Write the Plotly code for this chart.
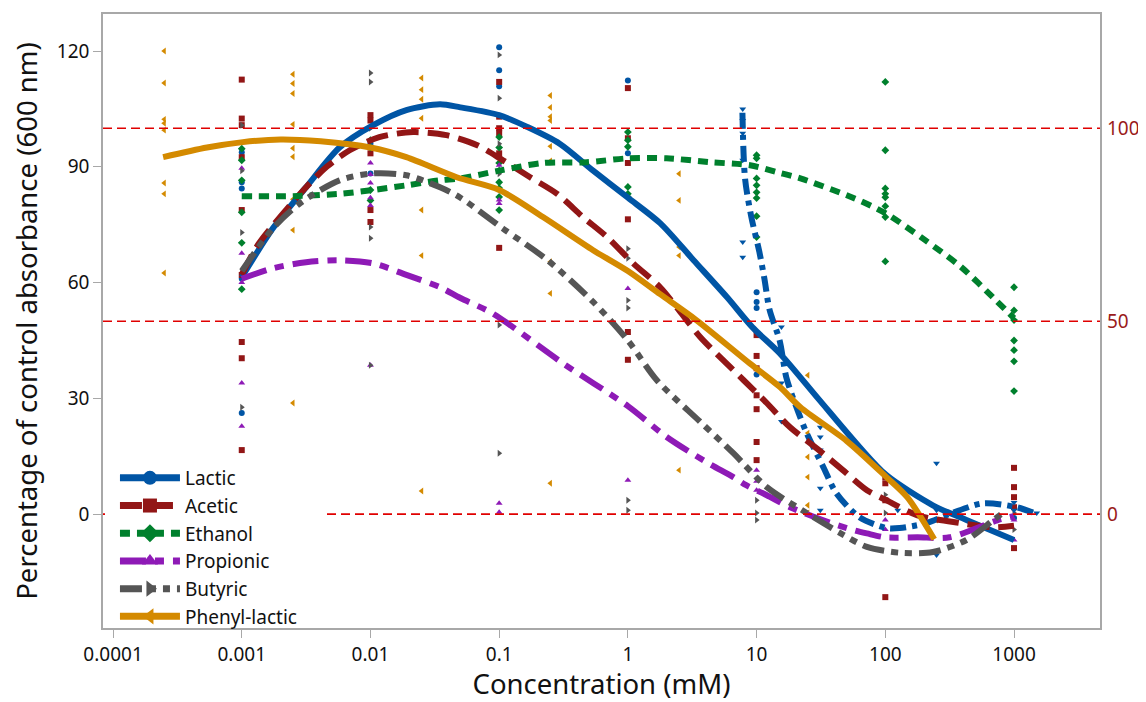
import plotly.graph_objects as go

# ---------------- data ----------------
series_names = ["Lactic", "Acetic", "Ethanol", "Propionic", "Butyric", "Phenyl-lactic"]
colors = ["#0055A5", "#921616", "#00802D", "#8E1AB6", "#555555", "#D48A00"]
symbols = ["circle", "square", "diamond", "triangle-up", "triangle-right", "triangle-left"]
dashes = ["solid", "22px,9px", "10px,7px", "26px,9px,9px,9px", "22px,7px,7px,7px,7px,7px", "solid"]

# fitted curves (concentration in mM, % of control)
lactic_cx = [0.001, 0.00174, 0.00316, 0.00575, 0.0105, 0.019, 0.0347, 0.05, 0.1, 0.166, 0.295, 0.537,
             1, 1.78, 3.24, 5.9, 9.3, 15.1, 30, 63, 102, 234, 427, 1000]
lactic_cy = [61.4, 74, 84.7, 95, 100.8, 104.7, 106.2, 105.4, 103.4, 100.3, 96, 89,
             82, 75.4, 65.8, 56.2, 48.4, 41.7, 30, 17.4, 10.1, 2.3, -1.5, -6.7]

acetic_cx = [0.001, 0.00135, 0.00316, 0.00457, 0.0069, 0.0117, 0.0214, 0.0389, 0.0676, 0.107, 0.174,
             0.282, 0.447, 0.69, 1.1, 1.78, 2.5, 3.63, 7.94, 12, 18.2, 29.5, 46.8, 72, 102, 178, 380, 692, 1000]
acetic_cy = [62, 70, 84.7, 90, 94.3, 97.7, 99, 98.2, 95.6, 91.7, 87.3,
             83, 77, 71.8, 65, 58.8, 52.8, 46, 34.7, 28.8, 22.5, 17, 11.4, 6.2, 3.6, -0.3, -2.3, -3.4, -3]

ethanol_cx = [0.001, 0.0025, 0.00575, 0.0105, 0.019, 0.0347, 0.05, 0.1, 0.219, 0.479, 1, 2.0, 4.37,
              8.9, 14.5, 21.9, 56, 100, 204, 389, 724, 1000]
ethanol_cy = [82.4, 82.4, 83, 84, 85.2, 86.5, 87, 89, 91, 91.2, 92.2, 92.2, 91.2,
              90.4, 88.6, 87, 82, 78, 71, 64, 55.4, 50.8]

propionic_cx = [0.001, 0.00174, 0.00316, 0.00575, 0.0105, 0.019, 0.0347, 0.05, 0.089, 0.316, 1, 2.0,
                4.07, 6.6, 8.3, 12, 18.2, 33, 56, 72, 100, 178, 316, 741, 1000]
propionic_cy = [61, 63.7, 65.3, 65.8, 65, 62, 58.8, 56, 52, 39, 28, 20,
                13.5, 9.6, 7.5, 4.9, 1.8, -1.6, -4.1, -5, -6, -6, -6, -1.6, -0.5]

butyric_cx = [0.001, 0.00174, 0.00282, 0.00575, 0.0105, 0.019, 0.0347, 0.05, 0.107, 0.234, 0.537, 1,
              1.68, 3.63, 6.6, 12, 24.5, 44.7, 72, 129, 234, 427, 692, 871]
butyric_cy = [63, 74, 80.5, 86.5, 88.3, 87.8, 84.7, 82, 74, 66, 55, 45,
              34.7, 24, 15.8, 7, 0.3, -4.9, -8.5, -10, -9.8, -6.7, -1.5, 1]

phenyl_cx = [0.000245, 0.000537, 0.00102, 0.002, 0.0041, 0.01, 0.019, 0.0468, 0.1, 0.219, 0.537, 1,
             1.78, 3.4, 8.9, 15.1, 21.9, 50, 102, 148, 240]
phenyl_cy = [92.5, 95, 96.4, 97.1, 96.6, 95, 92.5, 87.3, 84, 77, 68.4, 63,
             57, 50.3, 39, 33, 27.7, 19, 9.6, 4.4, -6.5]

# unlabelled blue series (inverted triangles)
extra_cx = [7.76, 8.13, 9.1, 10.5, 11.5, 12.6, 15.1, 17, 20.4, 24.5, 33, 41.7, 63, 102, 129, 209, 331,
            575, 1047, 1514]
extra_cy = [104, 87, 77, 68, 61, 53, 45, 35.5, 27.7, 21, 12.2, 5.4, -0.8, -3.6, -3.6, -2.3, 0.3,
            2.8, 1.8, 0]

# individual measurements: (concentration, values)
lactic_pts = [(0.001, [93.8, 86, 84.4, 61, 26.2]), (0.01, [96, 88.3]), (0.1, [121, 115, 110.9]),
              (1, [112.4, 93.5]), (10, [57.5, 55, 53.4, 36.2]), (1000, [-1])]
acetic_pts = [(0.001, [112.6, 102.5, 100.8, 92.5, 78.8, 62, 44.6, 40.4, 16.6]),
              (0.01, [103.4, 102, 93.5, 78.8, 75.7]),
              (0.1, [112, 103, 100, 98.7, 93.5, 69]),
              (1, [110.4, 97.4, 91, 76.4, 47.2, 40]),
              (10, [46.4, 41, 37.8, 30.8, 27.2, 18.7, 14]),
              (100, [9.6, 8, 3.6, -21.5]),
              (1000, [12, 7, 4.4, 1.8, -8.8])]
ethanol_pts = [(0.001, [94.7, 91.7, 86.5, 78.2, 70.3, 58.3]),
               (0.01, [96.9, 95, 84, 81.3]),
               (0.1, [97.7, 95, 91, 89, 86, 84.5, 82.2, 78.8]),
               (1, [99, 96.9, 95.2, 84.8, 83, 82.2]),
               (10, [93, 92.2, 87, 85.2, 83.4, 81.9, 77.2, 71.8]),
               (100, [112, 94.3, 84.4, 83, 82.1, 79.8, 77, 65.5]),
               (1000, [58.8, 52.8, 50.3, 45, 42.5, 39.6, 31.9])]
propionic_pts = [(0.001, [89.6, 67.6, 60, 34, 22.8]),
                 (0.01, [91, 88, 85.8, 82, 80, 38.6]),
                 (0.1, [90.4, 81.4, 80.5, 2.8, 0.5]),
                 (1, [58.5, 8.8]),
                 (10, [11.4, 8.5, 6.2]),
                 (100, [-1.5, -4]),
                 (1000, [-1.5, -6.7])]
butyric_pts = [(0.001, [100.8, 89, 73, 62.4, 27.7]),
               (0.01, [114.3, 112, 100, 74.4, 71.5, 38.6]),
               (0.1, [119, 107.8, 96, 88.2, 49, 15.8]),
               (1, [68.8, 66.3, 55.4, 53.4, 3.6, 1]),
               (10, [3.6, 0.3, -1.5]),
               (100, [5, 0.3]),
               (1000, [0.3, -4])]
phenyl_pts = [(0.00025, [120, 111.7, 102.3, 101.3, 99.5, 85.8, 83, 62.5]),
              (0.0025, [114, 111.6, 109, 101, 94.8, 92.6, 81.6, 73.6, 28.8]),
              (0.025, [113, 110, 107.5, 102.6, 78.8, 67, 6]),
              (0.25, [108.5, 105.4, 103, 102, 95.3, 91.5, 65.4, 57.2, 8]),
              (2.5, [88.2, 81.3, 69.2, 67, 11.4]),
              (25, [36, 21, 14.8, 9.6, 2.3, 0.3]),
              (250, [-1.5])]
extra_pts = [(7.8, [105, 102, 98.7, 91.7, 70.5, 66.6]),
             (15.6, [48.5, 34, 24]),
             (31.25, [22.5, 20, 16.6, 6.7, 1]),
             (125, [1]),
             (250, [13.2, 1, -10.6]),
             (1000, [3, 1]),
             (1500, [0.3])]

ref_levels = [0, 50, 100]
x_ticks = [0.0001, 0.001, 0.01, 0.1, 1, 10, 100, 1000]
x_ticktext = ["0.0001", "0.001", "0.01", "0.1", "1", "10", "100", "1000"]
y_ticks = [0, 30, 60, 90, 120]
y2_ticks = [0, 50, 100]

curves = [(lactic_cx, lactic_cy), (acetic_cx, acetic_cy), (ethanol_cx, ethanol_cy),
          (propionic_cx, propionic_cy), (butyric_cx, butyric_cy), (phenyl_cx, phenyl_cy)]
points = [lactic_pts, acetic_pts, ethanol_pts, propionic_pts, butyric_pts, phenyl_pts]


def flatten(pts):
    xs, ys = [], []
    for c, vals in pts:
        for v in vals:
            xs.append(c)
            ys.append(v)
    return xs, ys


fig = go.Figure()

# scatter points
for i, pts in enumerate(points):
    xs, ys = flatten(pts)
    fig.add_trace(go.Scatter(x=xs, y=ys, mode="markers", showlegend=False, hoverinfo="skip",
                             marker=dict(symbol=symbols[i], size=6, color=colors[i])))
xs, ys = flatten(extra_pts)
fig.add_trace(go.Scatter(x=xs, y=ys, mode="markers", showlegend=False, hoverinfo="skip",
                         marker=dict(symbol="triangle-down", size=6, color=colors[0])))

# curves
fig.add_trace(go.Scatter(x=extra_cx, y=extra_cy, mode="lines", showlegend=False, hoverinfo="skip",
                         line=dict(color=colors[0], width=6, dash="16px,6px,5px,6px",
                                   shape="spline", smoothing=0.8)))
for i, (cx, cy) in enumerate(curves):
    fig.add_trace(go.Scatter(x=cx, y=cy, mode="lines", showlegend=False, hoverinfo="skip",
                             line=dict(color=colors[i], width=6, dash=dashes[i],
                                       shape="spline", smoothing=0.8)))

# legend entries
for i, name in enumerate(series_names):
    fig.add_trace(go.Scatter(x=[None], y=[None], mode="lines+markers", name=name,
                             line=dict(color=colors[i], width=7, dash=dashes[i]),
                             marker=dict(symbol=symbols[i], size=14, color=colors[i])))

# invisible trace to activate right axis
fig.add_trace(go.Scatter(x=[x_ticks[0]], y=[ref_levels[0]], yaxis="y2", mode="markers",
                         marker=dict(opacity=0), showlegend=False, hoverinfo="skip"))

for lv in ref_levels:
    fig.add_shape(type="line", xref="paper", x0=0, x1=1, yref="y", y0=lv, y1=lv,
                  line=dict(color="#E00000", width=1.6, dash="9px,5px"), layer="above")

# white backdrop behind the legend
fig.add_shape(type="rect", xref="paper", yref="paper", x0=0.002, x1=0.22, y0=0.006, y1=0.265,
              fillcolor="white", line=dict(width=0), layer="above")

FONT = "Noto Sans, Open Sans, sans-serif"
axis_font = dict(family=FONT, size=19, color="#111111")
fig.update_layout(
    width=1138, height=694,
    margin=dict(l=95, r=46, t=6, b=74),
    paper_bgcolor="white", plot_bgcolor="white",
    font=dict(family=FONT, color="#111111"),
    xaxis=dict(type="log", range=[-4.078, 3.668], tickvals=x_ticks, ticktext=x_ticktext,
               automargin=False,
               showgrid=False, zeroline=False, showline=True, linecolor="#A8A8A8", linewidth=1.5,
               mirror=True, ticks="outside", ticklen=8, tickcolor="#A8A8A8", tickfont=axis_font,
               title=dict(text="Concentration (mM)", font=dict(family=FONT, size=27.5, color="#111111"),
                          standoff=4)),
    yaxis=dict(range=[-29.5, 129.6], tickvals=y_ticks, showgrid=False, zeroline=False,
               automargin=False,
               showline=True, linecolor="#A8A8A8", linewidth=1.5, mirror=True,
               ticks="outside", ticklen=8, tickcolor="#A8A8A8", tickfont=axis_font,
               title=dict(text="Percentage of control absorbance (600 nm)",
                          font=dict(family=FONT, size=27.5, color="#111111"), standoff=23)),
    yaxis2=dict(range=[-29.5, 129.6], overlaying="y", side="right", tickvals=y2_ticks,
                automargin=False,
                showgrid=False, zeroline=False, showline=False, ticks="", ticklabelstandoff=6,
                tickfont=dict(family=FONT, size=19, color="#9A1B1B")),
    legend=dict(x=0.012, y=-0.013, xanchor="left", yanchor="bottom", bgcolor="rgba(255,255,255,0)",
                font=dict(family=FONT, size=19, color="#111111"),
                itemwidth=60, tracegroupgap=0),
    showlegend=True,
)

fig.write_html("out.html")
